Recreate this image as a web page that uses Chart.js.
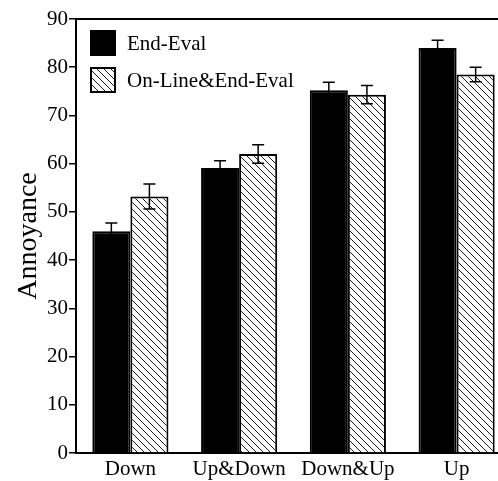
<!DOCTYPE html>
<html>
<head>
<meta charset="utf-8">
<script src="https://cdn.jsdelivr.net/npm/chart.js@4/dist/chart.umd.min.js"></script>
<style>
  html, body { margin: 0; padding: 0; background: #fff; overflow: hidden; }
  #wrap { width: 530px; height: 481px; }
  canvas { display: block; }
</style>
</head>
<body>
<div id="wrap"><canvas id="chart" width="530" height="481"></canvas></div>
<script>
// Mean annoyance per temporal profile, with error bars
const categories = ['Down', 'Up&Down', 'Down&Up', 'Up'];
const seriesNames = ['End-Eval', 'On-Line&End-Eval'];
const endEval = [46.0, 59.1, 75.2, 84.0];
const endEvalErr = [1.7, 1.5, 1.7, 1.6];
const onLineEndEval = [53.2, 62.0, 74.3, 78.5];
const onLineEndEvalErr = [2.6, 1.9, 1.9, 1.5];
const yMin = 0, yMax = 90, yStep = 10;
const axisTitle = 'Annoyance';

const FONT = '"Liberation Serif", "Times New Roman", serif';

// Diagonal "\" hatch fill
function makeHatch() {
  const s = 7;
  const c = document.createElement('canvas');
  c.width = s; c.height = s;
  const g = c.getContext('2d');
  g.fillStyle = '#fff';
  g.fillRect(0, 0, s, s);
  g.strokeStyle = '#1a1a1a';
  g.lineWidth = 1;
  g.beginPath();
  for (let k = -1; k <= 1; k++) {
    g.moveTo(k * s, 0);
    g.lineTo(k * s + s, s);
  }
  g.stroke();
  return g.createPattern(c, 'repeat');
}
const hatch = makeHatch();

// Vertical error bars with caps, drawn over each bar
const errorBars = {
  id: 'errorBars',
  afterDatasetsDraw(chart) {
    const ctx = chart.ctx;
    const ys = chart.scales.y;
    ctx.save();
    ctx.strokeStyle = '#000';
    ctx.lineWidth = 1.5;
    chart.data.datasets.forEach((ds, i) => {
      const meta = chart.getDatasetMeta(i);
      meta.data.forEach((bar, j) => {
        const v = ds.data[j], e = ds.errors[j];
        const yt = ys.getPixelForValue(v + e);
        const yb = ys.getPixelForValue(v - e);
        const x = bar.x, half = 6;
        ctx.beginPath();
        ctx.moveTo(x, yt); ctx.lineTo(x, yb);
        ctx.moveTo(x - half, yt); ctx.lineTo(x + half, yt);
        ctx.moveTo(x - half, yb); ctx.lineTo(x + half, yb);
        ctx.stroke();
      });
    });
    ctx.restore();
  }
};

// Top frame line of the plot box
const frame = {
  id: 'frame',
  afterDraw(chart) {
    const { ctx, chartArea: a } = chart;
    ctx.save();
    ctx.strokeStyle = '#000';
    ctx.lineWidth = 2;
    ctx.beginPath();
    ctx.moveTo(a.left - 1, a.top);
    ctx.lineTo(a.right, a.top);
    ctx.stroke();
    ctx.restore();
  }
};

// Legend boxes inside the upper-left corner of the plot
const insideLegend = {
  id: 'insideLegend',
  afterDraw(chart) {
    const { ctx, chartArea: a } = chart;
    const box = 26, gap = 11;
    let x = a.left + 14, y = a.top + 11;
    ctx.save();
    ctx.font = '21px ' + FONT;
    ctx.textBaseline = 'middle';
    ctx.fillStyle = '#000';
    chart.data.datasets.forEach((ds) => {
      ctx.fillStyle = ds.backgroundColor;
      ctx.fillRect(x, y, box, box);
      ctx.strokeStyle = '#000';
      ctx.lineWidth = 2;
      ctx.strokeRect(x + 1, y + 1, box - 2, box - 2);
      ctx.fillStyle = '#000';
      ctx.fillText(ds.label, x + box + 11, y + box / 2 + 1);
      y += box + gap;
    });
    ctx.restore();
  }
};

new Chart(document.getElementById('chart'), {
  type: 'bar',
  data: {
    labels: categories,
    datasets: [
      {
        label: seriesNames[0],
        data: endEval,
        errors: endEvalErr,
        backgroundColor: '#000',
        borderColor: '#000',
        borderWidth: 2
      },
      {
        label: seriesNames[1],
        data: onLineEndEval,
        errors: onLineEndEvalErr,
        backgroundColor: hatch,
        borderColor: '#000',
        borderWidth: 2
      }
    ]
  },
  options: {
    responsive: false,
    animation: false,
    devicePixelRatio: 1,
    layout: { padding: { top: 19, right: 19, left: 0, bottom: 0 } },
    datasets: { bar: { categoryPercentage: 0.70, barPercentage: 1.0 } },
    plugins: {
      legend: { display: false },
      tooltip: { enabled: false }
    },
    scales: {
      x: {
        afterFit(s) { s.height = 28; },
        grid: { display: false, drawTicks: false },
        border: { display: true, color: '#000', width: 2 },
        ticks: {
          color: '#000',
          font: { family: FONT, size: 21 },
          padding: 4,
          maxRotation: 0
        }
      },
      y: {
        min: yMin,
        max: yMax,
        afterFit(s) { s.width = 76; },
        grid: {
          drawOnChartArea: false,
          drawTicks: true,
          tickLength: 7,
          color: '#000',
          lineWidth: 1.5
        },
        border: { display: true, color: '#000', width: 2 },
        ticks: {
          stepSize: yStep,
          color: '#000',
          padding: 1,
          font: { family: FONT, size: 21 }
        },
        title: {
          display: true,
          text: axisTitle,
          color: '#000',
          font: { family: FONT, size: 28 },
          padding: { top: 12, bottom: 0 }
        }
      }
    }
  },
  plugins: [errorBars, frame, insideLegend]
});
</script>
</body>
</html>
